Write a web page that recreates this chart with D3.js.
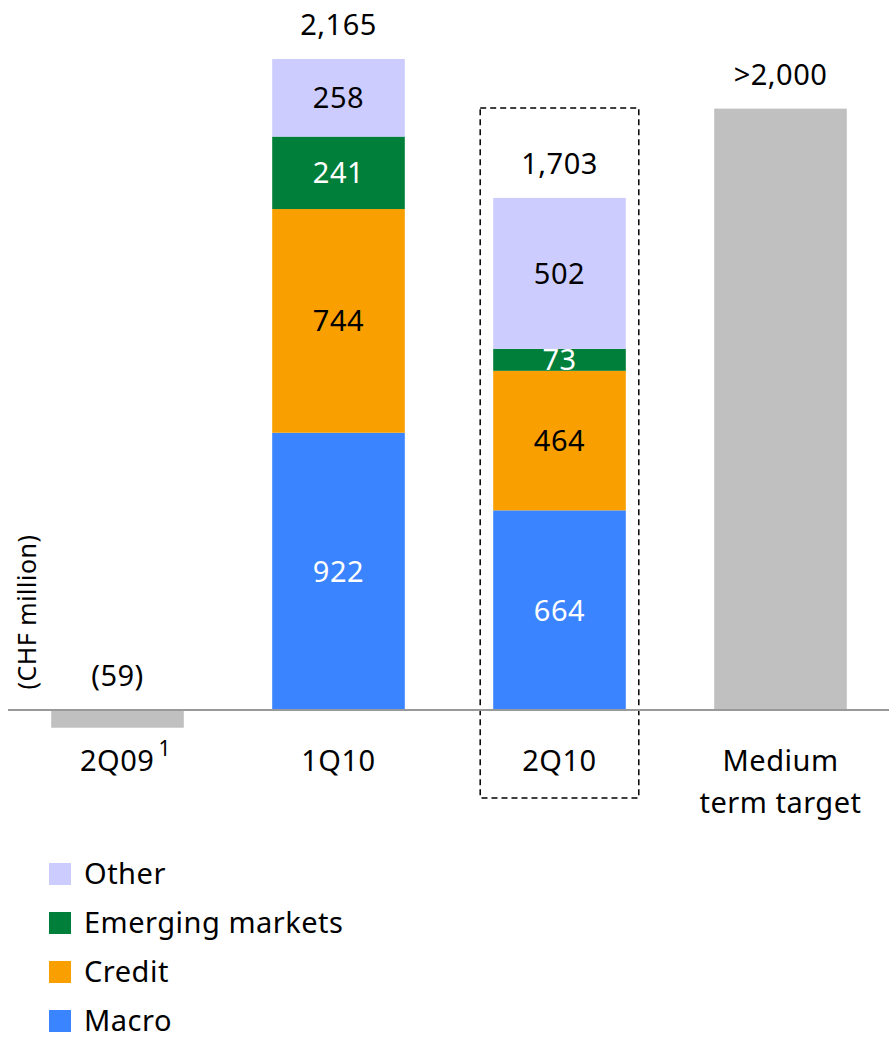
<!DOCTYPE html>
<html><head><meta charset="utf-8">
<script src="https://cdn.jsdelivr.net/npm/d3@7"></script>
<style>body{margin:0;background:#fff}svg{display:block}text{font-family:"Noto Sans",sans-serif;letter-spacing:0.5px}</style>
</head><body>
<svg id="c" width="889" height="1040"></svg>
<script>
const categories = ["2Q09", "1Q10", "2Q10", "Medium term target"];
const seriesNames = ["Macro", "Credit", "Emerging markets", "Other"];
const macro = [0, 922, 664, 0];
const credit = [0, 744, 464, 0];
const emerging = [0, 241, 73, 0];
const other = [0, 258, 502, 0];
const totals = [-59, 2165, 1703, 2000];
const totalLabels = ["(59)", "2,165", "1,703", ">2,000"];
const grayBars = [-59, null, null, 2000];
const colors = {"Macro":"#3a84ff","Credit":"#f9a000","Emerging markets":"#007f3a","Other":"#ccccff"};
const labelColors = {"Macro":"#fff","Credit":"#000","Emerging markets":"#fff","Other":"#000"};
const FS = 29;

const svg = d3.select("#c");
const x = d3.scaleBand().domain(categories).range([7, 891]).paddingInner(0.4).paddingOuter(0.2);
const y = d3.scaleLinear().domain([0, 2165]).range([710, 59]);

const rows = categories.map((c, i) => ({cat: c, "Macro": macro[i], "Credit": credit[i], "Emerging markets": emerging[i], "Other": other[i]}));
const stack = d3.stack().keys(seriesNames)(rows);

// dashed highlight box around 2Q10
svg.append("rect")
  .attr("x", x("2Q10") - 13).attr("y", y(1703) - 90)
  .attr("width", x.bandwidth() + 26).attr("height", 798 - (y(1703) - 90))
  .attr("fill", "none").attr("stroke", "#000").attr("stroke-width", 1.5).attr("stroke-dasharray", "6,4");

// gray bars
categories.forEach((c, i) => {
  const v = grayBars[i];
  if (v == null) return;
  svg.append("rect").attr("x", x(c)).attr("width", x.bandwidth())
    .attr("y", y(Math.max(0, v))).attr("height", Math.abs(y(v) - y(0)))
    .attr("fill", "#c0c0c0");
});

// stacked bars
stack.forEach(layer => {
  const key = layer.key;
  layer.forEach((d, i) => {
    if (d[1] - d[0] <= 0) return;
    const cat = categories[i];
    svg.append("rect").attr("x", x(cat)).attr("width", x.bandwidth())
      .attr("y", y(d[1])).attr("height", y(d[0]) - y(d[1])).attr("fill", colors[key]);
    svg.append("text").attr("x", x(cat) + x.bandwidth() / 2)
      .attr("y", (y(d[0]) + y(d[1])) / 2).attr("dy", "0.36em")
      .attr("text-anchor", "middle").attr("font-size", FS).attr("fill", labelColors[key])
      .text(d3.format(",")(d[1] - d[0]));
  });
});

// axis line
svg.append("line").attr("x1", 8).attr("x2", 889).attr("y1", y(0)).attr("y2", y(0))
  .attr("stroke", "#999").attr("stroke-width", 2);

// totals
categories.forEach((c, i) => {
  const v = totals[i];
  svg.append("text").attr("x", x(c) + x.bandwidth() / 2)
    .attr("y", y(Math.max(0, v)) - 24)
    .attr("text-anchor", "middle").attr("font-size", FS).attr("fill", "#000")
    .text(totalLabels[i]);
});

// category labels
categories.forEach((c, i) => {
  const cx = x(c) + x.bandwidth() / 2;
  const t = svg.append("text").attr("x", cx).attr("y", 771)
    .attr("text-anchor", "middle").attr("font-size", FS).attr("fill", "#000");
  if (c === "Medium term target") {
    t.append("tspan").attr("x", cx).attr("y", 771).text("Medium");
    t.append("tspan").attr("x", cx).attr("y", 813).text("term target");
  } else if (c === "2Q09") {
    t.attr("x", cx + 8);
    t.append("tspan").text("2Q09");
    t.append("tspan").attr("dx", 4).attr("dy", -15).attr("font-size", 21).text("1");
  } else {
    t.text(c);
  }
});

// y axis title
svg.append("text").attr("transform", "translate(36,612) rotate(-90)")
  .attr("text-anchor", "middle").attr("font-size", 25).attr("fill", "#000").text("(CHF million)");

// legend
const legendItems = ["Other", "Emerging markets", "Credit", "Macro"];
legendItems.forEach((k, i) => {
  const yy = 874 + i * 49;
  svg.append("rect").attr("x", 49).attr("y", yy - 11).attr("width", 22).attr("height", 22).attr("fill", colors[k]);
  svg.append("text").attr("x", 84).attr("y", yy).attr("dy", "0.36em")
    .attr("font-size", FS).attr("fill", "#000").text(k);
});
</script>
</body></html>
